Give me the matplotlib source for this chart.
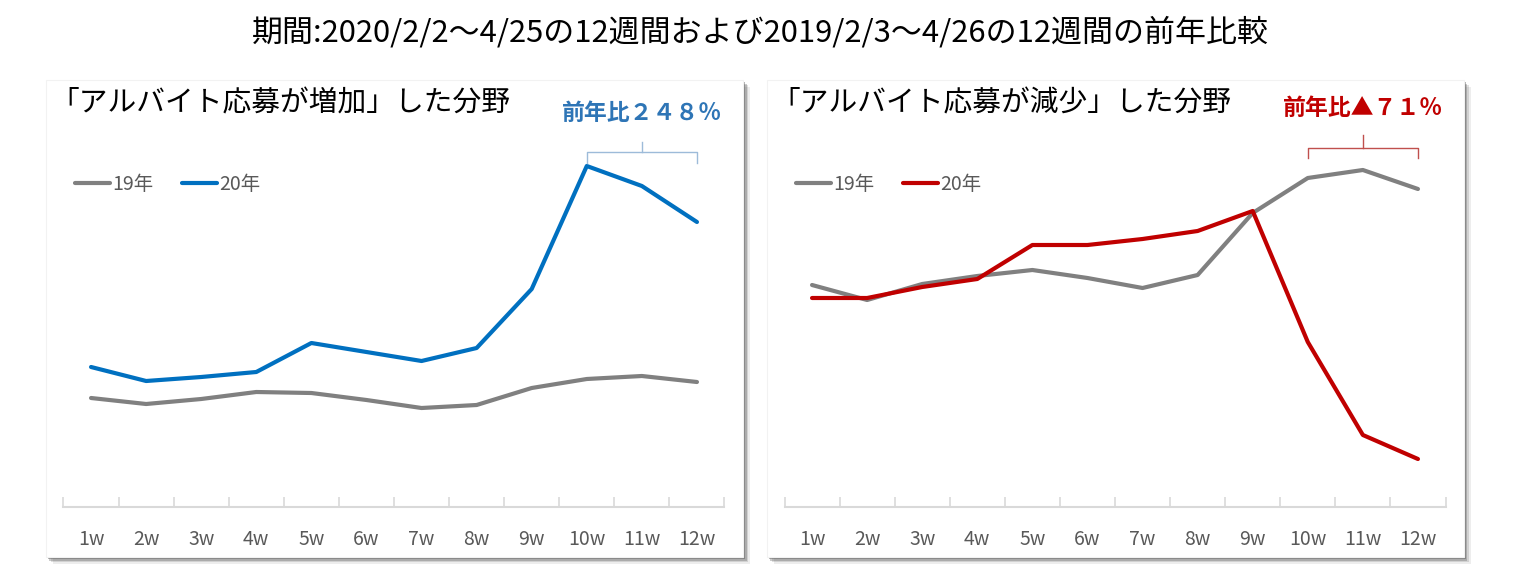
import matplotlib
matplotlib.use("Agg")
import matplotlib.pyplot as plt
from matplotlib.patches import Rectangle

plt.rcParams['font.family'] = ['Noto Sans CJK JP', 'DejaVu Sans']

# データ (グラフから読み取った指数値)
weeks = ['1w', '2w', '3w', '4w', '5w', '6w', '7w', '8w', '9w', '10w', '11w', '12w']
zouka_19 = [109, 103, 108, 115, 114, 107, 99, 102, 119, 128, 131, 125]
zouka_20 = [140, 126, 130, 135, 164, 155, 146, 159, 218, 341, 321, 285]
genshou_19 = [222, 207, 223, 231, 237, 229, 219, 232, 294, 329, 337, 318]
genshou_20 = [209, 209, 220, 228, 262, 262, 268, 276, 296, 165, 72, 48]

titolo = '期間:2020/2/2～4/25の12週間および2019/2/3～4/26の12週間の前年比較'
titoli_pannelli = ['「アルバイト応募が増加」した分野', '「アルバイト応募が減少」した分野']
annotazioni = ['前年比２４８％', '前年比▲７１％']

GRIGIO = '#808080'
BLU = '#0070C0'
ROSSO = '#C00000'

W, H = 1520, 570
fig = plt.figure(figsize=(W / 100, H / 100), dpi=100)


def px(x, y):
    # pixel -> coordinate figura
    return x / W, 1 - y / H


# riquadri con ombra
for x0, x1 in [(46, 743), (767, 1464)]:
    y0, y1 = 80, 557
    for k, a in [(7, 0.10), (5, 0.18), (3.5, 0.30), (2, 0.45)]:
        fig.patches.append(Rectangle(px(x0 + k, y1 + k), (x1 - x0) / W, (y1 - y0) / H,
                                     transform=fig.transFigure, facecolor='#555555',
                                     edgecolor='none', alpha=a, zorder=0))
    fig.patches.append(Rectangle(px(x0, y1), (x1 - x0) / W, (y1 - y0) / H,
                                 transform=fig.transFigure, facecolor='white',
                                 edgecolor='#f2f2f2', linewidth=0.8, zorder=1))

fig.text(0.5, 1 - 33 / H, titolo, ha='center', va='center', fontsize=22.3, color='black')

pannelli = [
    (63.5, zouka_19, zouka_20, BLU, '#2E75B6', '#9DBBD9', 113),
    (784.5, genshou_19, genshou_20, ROSSO, '#C00000', '#C0504D', 108),
]

for i, (xl, s19, s20, col, col_txt, col_br, y_ann) in enumerate(pannelli):
    ax = fig.add_axes([xl / W, 63 / H, 661 / W, 357 / H])
    ax.set_zorder(2)
    ax.patch.set_visible(False)
    x = list(range(len(weeks)))
    ax.plot(x, s19, color=GRIGIO, lw=3, label='19年', solid_capstyle='round')
    ax.plot(x, s20, color=col, lw=3, label='20年', solid_capstyle='round')
    ax.set_xlim(-0.5, 11.5)
    ax.set_ylim(0, 357)
    for s in ['top', 'left', 'right']:
        ax.spines[s].set_visible(False)
    ax.spines['bottom'].set_color('#D9D9D9')
    ax.spines['bottom'].set_linewidth(1.5)
    ax.set_yticks([])
    ax.set_xticks(x)
    ax.set_xticklabels(weeks, fontsize=14, color='#595959')
    ax.tick_params(axis='x', which='major', length=0, pad=16)
    ax.set_xticks([v - 0.5 for v in range(len(weeks) + 1)], minor=True)
    ax.tick_params(axis='x', which='minor', direction='in', length=7, width=1.2,
                   color='#D9D9D9')

    # parentesi graffa sopra 10w-12w
    y_end = 344 if i == 0 else 349
    y_mid = 355 if i == 0 else 359
    y_top = 365 if i == 0 else 372
    ax.plot([9, 9, 11, 11], [y_end, y_mid, y_mid, y_end], color=col_br, lw=1, clip_on=False)
    ax.plot([10, 10], [y_mid, y_top], color=col_br, lw=1, clip_on=False)

    xa = (xl + 10.5 * 55.1) / W
    fig.text(xa, 1 - y_ann / H, annotazioni[i], ha='center', va='center', fontsize=16.5,
             color=col_txt, fontweight='bold')

    xt = 50 if i == 0 else 771
    fig.text(xt / W, 1 - 103 / H, titoli_pannelli[i], ha='left', va='center',
             fontsize=20.7, color='black')

    leg = ax.legend(loc='center left', bbox_to_anchor=px(xt + 25, 184), bbox_transform=fig.transFigure,
                    ncol=2, frameon=False, fontsize=14, handlelength=1.8,
                    handletextpad=0.1, columnspacing=1.5, borderaxespad=0, borderpad=0)
    for t in leg.get_texts():
        t.set_color('#595959')

fig.savefig('out.png', dpi=100)
